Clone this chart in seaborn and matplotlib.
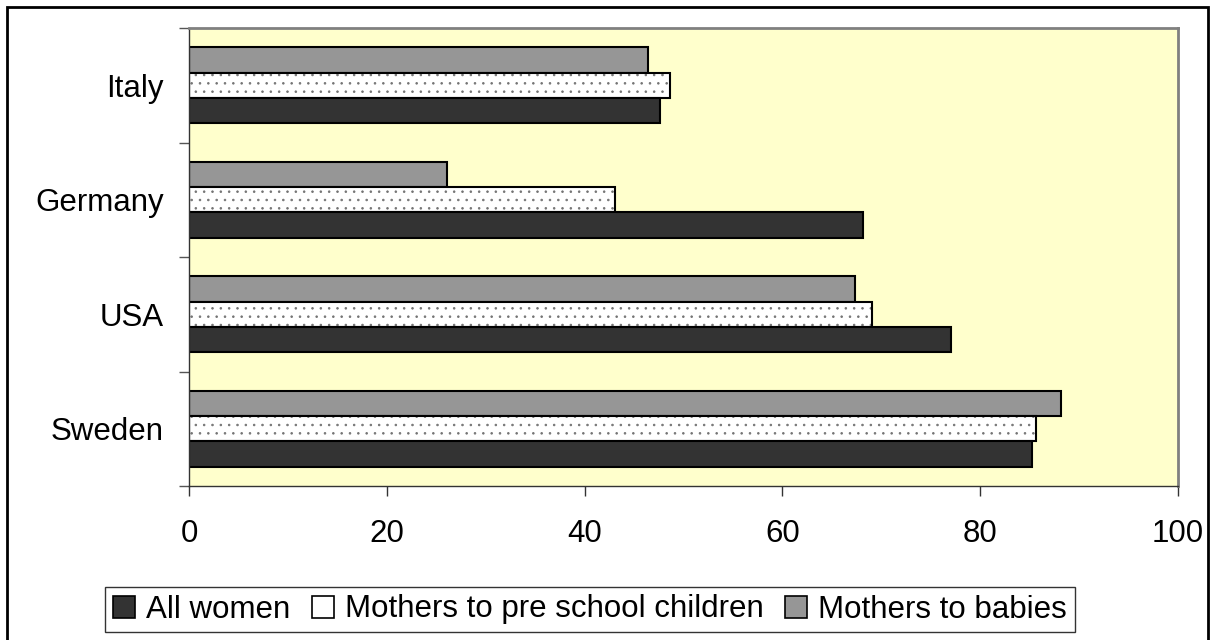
import seaborn as sns
import pandas as pd
import matplotlib.pyplot as plt
from matplotlib.patches import Patch, Rectangle

countries = ['Italy', 'Germany', 'USA', 'Sweden']
groups = ['All women', 'Mothers to pre school children', 'Mothers to babies']
all_women = [47.6, 68.1, 77.0, 85.2]
preschool = [48.6, 43.1, 69.1, 85.6]
babies = [46.4, 26.1, 67.3, 88.2]
xticks = [0, 20, 40, 60, 80, 100]

colors = {'All women': '#333333',
          'Mothers to pre school children': '#ffffff',
          'Mothers to babies': '#969696'}

df = pd.DataFrame({
    'country': countries * 3,
    'group': [groups[0]] * 4 + [groups[1]] * 4 + [groups[2]] * 4,
    'value': all_women + preschool + babies,
})

sns.set_style('white')
plt.rcParams['font.family'] = ['Liberation Sans', 'DejaVu Sans']
plt.rcParams['hatch.linewidth'] = 0.6
plt.rcParams['text.color'] = 'black'
plt.rcParams['xtick.labelcolor'] = 'black'
plt.rcParams['ytick.labelcolor'] = 'black'

fig = plt.figure(figsize=(12.17, 6.40), dpi=100)
ax = fig.add_axes([189 / 1217, 1 - 486 / 640, (1178 - 189) / 1217, (486 - 28) / 640])

# top bar in each group is "babies", bottom is "All women"
hue_order = groups[::-1]
sns.barplot(data=df, y='country', x='value', hue='group', order=countries,
            hue_order=hue_order, palette=colors, width=0.66, dodge=True,
            edgecolor='black', linewidth=1.5, legend=False, ax=ax, saturation=1)

for p in ax.patches:
    fc = p.get_facecolor()
    if fc[0] > 0.99 and fc[1] > 0.99:
        p.set_hatch('..')
        p._hatch_color = (0.45, 0.45, 0.45, 1)

ax.set_facecolor('#ffffcc')
ax.set_xlim(0, 100)
ax.set_ylim(3.5, -0.5)
ax.set_xticks(xticks)
ax.set_xlabel('')
ax.set_ylabel('')

ax.set_yticks(range(len(countries)))
ax.set_yticklabels(countries)
ax.set_yticks([-0.5, 0.5, 1.5, 2.5, 3.5], minor=True)
ax.tick_params(axis='y', which='major', length=0, pad=18, labelsize=22.5,
               labelcolor='black')
ax.tick_params(axis='y', which='minor', length=7, width=1, color='#555555', left=True)
ax.tick_params(axis='x', length=7, width=1, color='#333333', pad=17, labelsize=22.5,
               bottom=True, labelcolor='black')

for s in ['top', 'right']:
    ax.spines[s].set_color('#808080')
    ax.spines[s].set_linewidth(2)
for s in ['left', 'bottom']:
    ax.spines[s].set_color('#333333')
    ax.spines[s].set_linewidth(1)

handles = []
for g in groups:
    h = Patch(facecolor=colors[g], edgecolor='black', linewidth=1.2)
    handles.append(h)
leg = fig.legend(handles, groups, loc='center', ncol=3,
                 bbox_to_anchor=(590 / 1217, 1 - 609.5 / 640),
                 fontsize=22.5, frameon=True, fancybox=False, edgecolor='black',
                 handlelength=0.7, handleheight=0.7, handletextpad=0.35,
                 columnspacing=0.7, borderpad=0.25, borderaxespad=0)
leg.get_frame().set_linewidth(1)

fig.patches.append(Rectangle((7 / 1217, -0.02), 1201 / 1217, 1 - 7 / 640 + 0.02,
                             transform=fig.transFigure, fill=False,
                             edgecolor='black', linewidth=2))

fig.savefig('out.png', dpi=100)
